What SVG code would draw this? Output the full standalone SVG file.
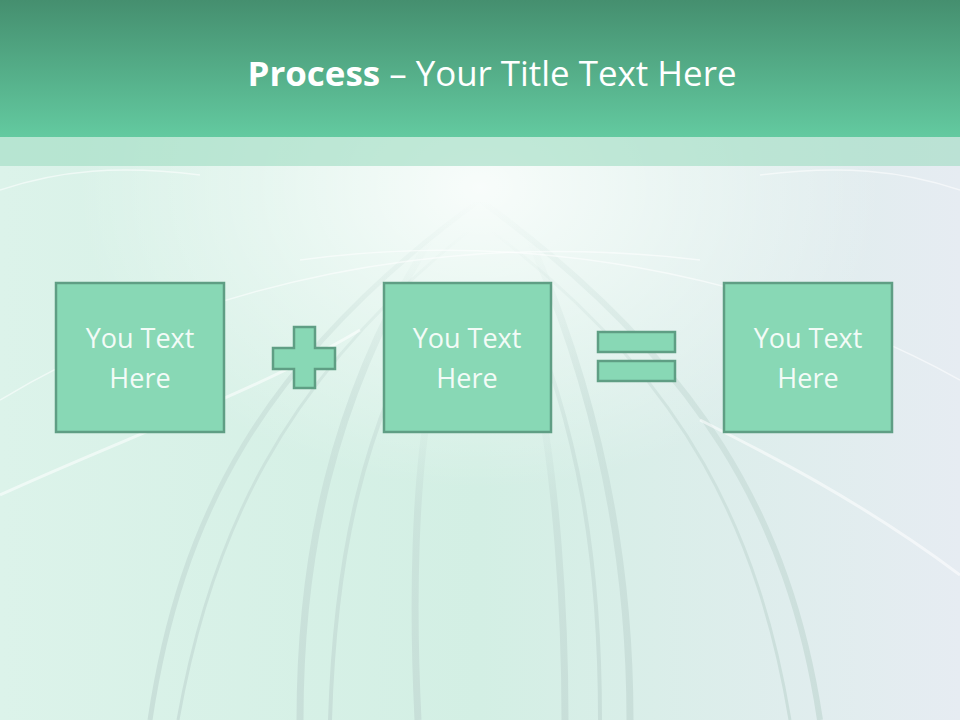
<svg xmlns="http://www.w3.org/2000/svg" width="960" height="720" viewBox="0 0 960 720">
<defs>
<linearGradient id="hdr" x1="0" y1="0" x2="0" y2="1">
<stop offset="0" stop-color="#458f6f"/>
<stop offset="1" stop-color="#63caa0"/>
</linearGradient>
<linearGradient id="bg" x1="0" y1="0" x2="1" y2="0">
<stop offset="0" stop-color="#dcf3ea"/>
<stop offset="0.5" stop-color="#d3efe4"/>
<stop offset="1" stop-color="#e6ecf2"/>
</linearGradient>
<radialGradient id="glow" cx="0.5" cy="0.26" r="0.42">
<stop offset="0" stop-color="#ffffff" stop-opacity="0.85"/>
<stop offset="1" stop-color="#ffffff" stop-opacity="0"/>
</radialGradient>
<linearGradient id="fade" x1="0" y1="0" x2="0" y2="1">
<stop offset="0" stop-color="#c2d8d3" stop-opacity="0"/>
<stop offset="0.35" stop-color="#c2d8d3" stop-opacity="0.5"/>
<stop offset="1" stop-color="#c2d8d3" stop-opacity="0.7"/>
</linearGradient>
<style>
.box{fill:#88d8b5;stroke:#5f9e84;stroke-width:2.5}
.lbl{font-family:"Open Sans","Liberation Sans",sans-serif;font-size:27px;fill:#f3fbf7;text-anchor:middle}
.sw{fill:none;stroke:url(#fade)}
.hl{fill:none;stroke:#ffffff;stroke-opacity:0.55}
</style>
</defs>
<rect width="960" height="720" fill="url(#bg)"/>
<rect width="960" height="720" fill="url(#glow)"/>
<g id="background-curves">
<path class="sw" stroke-width="5" d="M150 720 C180 520 260 360 480 200"/>
<path class="sw" stroke-width="3" d="M178 720 C210 540 280 380 470 230"/>
<path class="sw" stroke-width="7" d="M300 720 C300 560 330 400 430 240"/>
<path class="sw" stroke-width="4" d="M330 720 C335 560 360 430 440 290"/>
<path class="sw" stroke-width="7" d="M418 720 C412 600 415 480 430 400"/>
<path class="sw" stroke-width="7" d="M565 720 C565 600 555 480 540 400"/>
<path class="sw" stroke-width="7" d="M630 720 C630 560 600 400 530 240"/>
<path class="sw" stroke-width="4" d="M600 720 C600 560 580 430 520 290"/>
<path class="sw" stroke-width="6" d="M820 720 C790 520 700 360 480 200"/>
<path class="sw" stroke-width="3" d="M790 720 C760 540 690 380 490 230"/>
<path class="hl" stroke-width="3" d="M0 495 C120 440 260 390 360 330"/>
<path class="hl" stroke-width="3" d="M960 575 C860 500 760 450 700 420"/>
<path class="hl" stroke-width="1.5" d="M0 400 C200 280 450 230 700 260"/>
<path class="hl" stroke-width="1.5" d="M960 380 C760 270 520 230 300 260"/>
<path class="hl" stroke-width="1.5" d="M0 190 C60 170 120 165 200 175"/>
<path class="hl" stroke-width="1.5" d="M960 190 C900 170 840 165 760 175"/>
</g>
<rect id="header" x="0" y="0" width="960" height="137" fill="url(#hdr)"/>
<rect id="band" x="0" y="137" width="960" height="29" fill="#9fdcc1" fill-opacity="0.6"/>
<g id="title">
<text x="492" y="86" text-anchor="middle" font-family="'Open Sans','Liberation Sans',sans-serif" font-size="34" fill="#ffffff" textLength="489" lengthAdjust="spacingAndGlyphs"><tspan font-weight="bold">Process</tspan> – Your Title Text Here</text>
</g>
<g id="node1">
<rect class="box" x="56" y="283" width="168" height="149"/>
<text class="lbl" x="140" y="348">You Text</text>
<text class="lbl" x="140" y="388">Here</text>
</g>
<g id="plus">
<path class="box" d="M294 327 H315 V348 H335 V369 H315 V388 H294 V369 H273 V348 H294 Z"/>
</g>
<g id="node2">
<rect class="box" x="384" y="283" width="167" height="149"/>
<text class="lbl" x="467" y="348">You Text</text>
<text class="lbl" x="467" y="388">Here</text>
</g>
<g id="equals">
<rect class="box" x="598" y="332" width="77" height="20"/>
<rect class="box" x="598" y="361" width="77" height="20"/>
</g>
<g id="node3">
<rect class="box" x="724" y="283" width="168" height="149"/>
<text class="lbl" x="808" y="348">You Text</text>
<text class="lbl" x="808" y="388">Here</text>
</g>
<g id="connectors"/>
</svg>
